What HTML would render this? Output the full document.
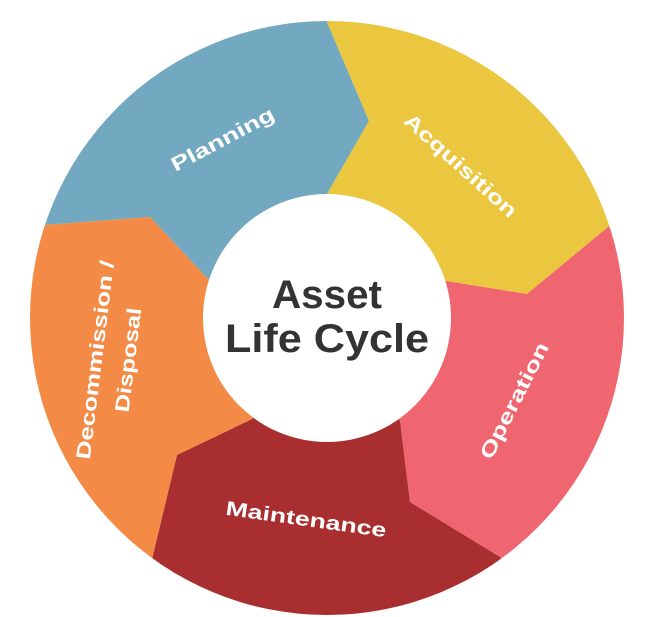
<!DOCTYPE html>
<html><head><style>html,body{margin:0;padding:0;background:#fff;overflow:hidden;width:651px;height:617px}svg{display:block}</style></head>
<body>
<svg width="651" height="617" viewBox="0 0 651 617" xmlns="http://www.w3.org/2000/svg">
<defs><clipPath id="c"><circle cx="327" cy="318" r="297"/></clipPath></defs>
<g clip-path="url(#c)">
<polygon fill="#72a9c0" points="327,318 208,279 150,217 -60,233 -50,-50 327,-50 327,22 369,121 327,194"/>
<polygon fill="#ebc63f" points="327,318 327,194 369,121 327,22 327,-50 700,-50 692,200 608,227 527,294 446,281"/>
<polygon fill="#ef6670" points="327,318 446,281 527,294 608,227 692,200 700,700 552,629 500,557 410,502 400,421"/>
<polygon fill="#a92e2f" points="327,318 400,421 410,502 500,557 552,629 552,700 100,700 100,631 152,559 177,455 252,419"/>
<polygon fill="#f38a45" points="327,318 252,419 177,455 152,559 100,631 -50,700 -60,233 150,217 208,279"/>
</g>
<circle cx="327" cy="318" r="124" fill="#fff"/>
<g font-family="Liberation Sans, sans-serif" font-weight="bold" fill="#fff" font-size="20" text-anchor="middle" dominant-baseline="central">
<text transform="translate(223,140) rotate(-28)" textLength="114" lengthAdjust="spacingAndGlyphs">Planning</text>
<text transform="translate(460,166) rotate(42)" textLength="144" lengthAdjust="spacingAndGlyphs">Acquisition</text>
<text transform="translate(515,401) rotate(-63)" textLength="128" lengthAdjust="spacingAndGlyphs">Operation</text>
<text transform="translate(306,520) rotate(8)" textLength="162" lengthAdjust="spacingAndGlyphs">Maintenance</text>
<text transform="translate(96,360) rotate(-83)" textLength="200" lengthAdjust="spacingAndGlyphs">Decommission /</text>
<text transform="translate(129,360) rotate(-83)" textLength="105" lengthAdjust="spacingAndGlyphs">Disposal</text>
</g>
<g font-family="Liberation Sans, sans-serif" font-weight="bold" fill="#333" font-size="40" text-anchor="middle" dominant-baseline="central">
<text x="327" y="295" textLength="110" lengthAdjust="spacingAndGlyphs">Asset</text>
<text x="327" y="339" textLength="204" lengthAdjust="spacingAndGlyphs">Life Cycle</text>
</g>
</svg>
</body></html>
